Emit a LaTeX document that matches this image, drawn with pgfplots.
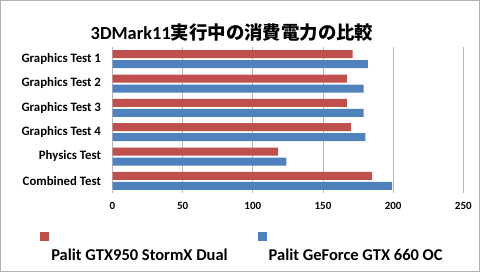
\documentclass[border=0pt]{standalone}
\usepackage{pgfplots}
\pgfplotsset{compat=1.18}
\usepackage{fontspec}
\setmainfont{Carlito}
\newfontfamily\cjk{Noto Sans CJK JP}
\definecolor{cred}{RGB}{192,80,77}
\definecolor{cblue}{RGB}{79,129,189}
\begin{document}
\begin{tikzpicture}[x=1bp,y=1bp]
\draw[draw=black!30, line width=0.8bp] (0.5,0.5) rectangle (479.5,271.5);
\node[font=\fontsize{18.4bp}{22bp}\selectfont\bfseries] at (232,239) {3DMark11{\cjk\bfseries 実行中の消費電力の比較}};
\begin{axis}[
  at={(112.5bp,79bp)}, anchor=south west,
  scale only axis, width=350.8bp, height=146bp,
  xbar, bar width=8bp,
  xmin=0, xmax=250, ymin=-0.5, ymax=5.5,
  y dir=reverse,
  ytick={0,...,5},
  yticklabels={Graphics Test 1,Graphics Test 2,Graphics Test 3,Graphics Test 4,Physics Test,Combined Test},
  xtick={0,50,100,150,200,250},
  xmajorgrids, grid style={draw=black!28, line width=0.8bp},
  axis line style={draw=none},
  major tick length=0pt,
  yticklabel style={font=\fontsize{12.8bp}{15bp}\selectfont\bfseries, xshift=-8bp},
  xticklabel style={font=\fontsize{11bp}{13bp}\selectfont\bfseries, yshift=-6bp},
  /pgf/number format/assume math mode=true,
  legend columns=2,
  legend style={draw=none, fill=none, at={(-0.215,-0.252)}, anchor=north west,
    font=\fontsize{16.5bp}{19bp}\selectfont\bfseries,
    /tikz/every even column/.append style={column sep=28bp}},
  legend image code/.code={\fill[#1] (-2bp,14bp) rectangle (7bp,23bp);},
]
\addplot[fill=cred, draw=none, bar shift=5bp] coordinates {(171.2,0) (167.1,1) (167,2) (170,3) (118,4) (185,5)};
\addplot[fill=cblue, draw=none, bar shift=-5bp] coordinates {(181.9,0) (179,1) (179,2) (180.2,3) (123.9,4) (199.2,5)};
\legend{Palit GTX950 StormX Dual,Palit GeForce GTX 660 OC}
\end{axis}
\pgfresetboundingbox
\useasboundingbox (0,0) rectangle (480,272);
\end{tikzpicture}
\end{document}
